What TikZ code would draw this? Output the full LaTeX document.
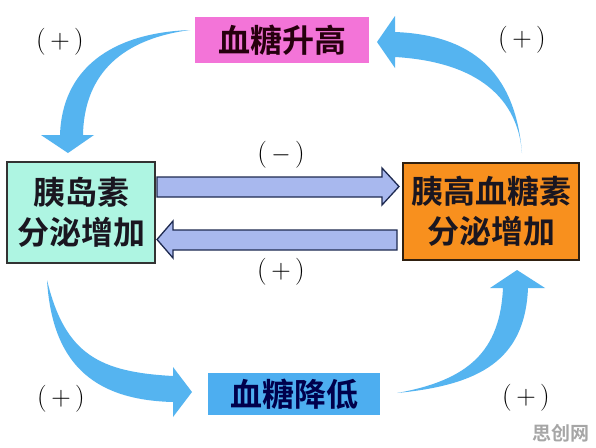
\documentclass[tikz,border=0pt]{standalone}
\usepackage{fontspec}
\newfontfamily\cjk{Noto Sans CJK SC}[BoldFont={Noto Sans CJK SC Bold}]
\usetikzlibrary{calc}
\definecolor{curveblue}{HTML}{55B4F0}
\definecolor{pinkbox}{HTML}{F374D8}
\definecolor{tealbox}{HTML}{AEF5E2}
\definecolor{orangebox}{HTML}{F8901E}
\definecolor{bluebox}{HTML}{4DAEF0}
\definecolor{arrowfill}{HTML}{A8B8EE}
\definecolor{arrowline}{HTML}{1E2A50}
\definecolor{darktext}{HTML}{1A1620}
\tikzset{
  box/.style={inner sep=0pt, align=center, font=\cjk\bfseries\fontsize{32}{40}\selectfont, text=darktext},
  curvearrow/.style={fill=curveblue, draw=none},
  blockarrow/.style={fill=arrowfill, draw=arrowline, line width=1.3pt, line join=miter},
  sign/.style={font=\fontsize{27}{28}\selectfont, text=black}
}
\begin{document}
\begin{tikzpicture}[x=1pt,y=-1pt]
\useasboundingbox[fill=white] (0,0) rectangle (596,447);

% boxes
\node[box, fill=pinkbox, minimum width=174pt, minimum height=46pt, text=black!80!purple] (high) at (282,40) {血糖升高};
\node[box, fill=tealbox, draw=black!80, line width=1.2pt, minimum width=148pt, minimum height=101pt] (ins) at (81,212.5) {胰岛素\\分泌增加};
\node[box, fill=orangebox, draw=black!75!brown, line width=1.2pt, minimum width=176pt, minimum height=97pt] (glu) at (491,211.5) {胰高血糖素\\分泌增加};
\node[box, fill=bluebox, minimum width=172pt, minimum height=42pt, text=black!70!blue] (low) at (294,394) {血糖降低};

% straight block arrows
\draw[blockarrow] (157,177) -- (382,177) -- (382,168) -- (399,186.5) -- (382,205) -- (382,197) -- (157,197) -- cycle;
\draw[blockarrow] (397,230) -- (173,230) -- (173,221) -- (157,239.5) -- (173,258) -- (173,250) -- (397,250) -- cycle;

% curved arrows
\fill[curvearrow] (190,30) .. controls (110,33) and (62,70) .. (60,135)
  -- (41,135) -- (68,153) -- (94,135) -- (83,135)
  .. controls (84,80) and (115,40) .. (190,30) -- cycle;
\fill[curvearrow] (395,32) .. controls (470,35) and (515,70) .. (522,153)
  .. controls (518,100) and (480,62) .. (395,57)
  -- (395,68) -- (377,42) -- (395,16) -- cycle;
\fill[curvearrow] (47,280) .. controls (52,360) and (90,400) .. (173,402)
  -- (173,417) -- (192,392) -- (173,367) -- (173,376)
  .. controls (100,372) and (65,355) .. (47,280) -- cycle;
\fill[curvearrow] (397,393) .. controls (480,385) and (525,360) .. (528,288)
  -- (545,288) -- (517,270) -- (490,288) -- (503,288)
  .. controls (500,350) and (470,380) .. (397,393) -- cycle;

% signs
\node[sign] (s1) at (60,42) {(\,+\,)};
\node[sign] (s2) at (522,40) {(\,+\,)};
\node[sign] (s3) at (281,155) {(\,$-$\,)};
\node[sign] (s4) at (281,272) {(\,+\,)};
\node[sign] (s5) at (61,399) {(\,+\,)};
\node[sign] (s6) at (526,398) {(\,+\,)};

% watermark
\node[font=\cjk\bfseries\fontsize{19}{20}\selectfont, text=black!35] (wm) at (561,433) {思创网};
\end{tikzpicture}
\end{document}
